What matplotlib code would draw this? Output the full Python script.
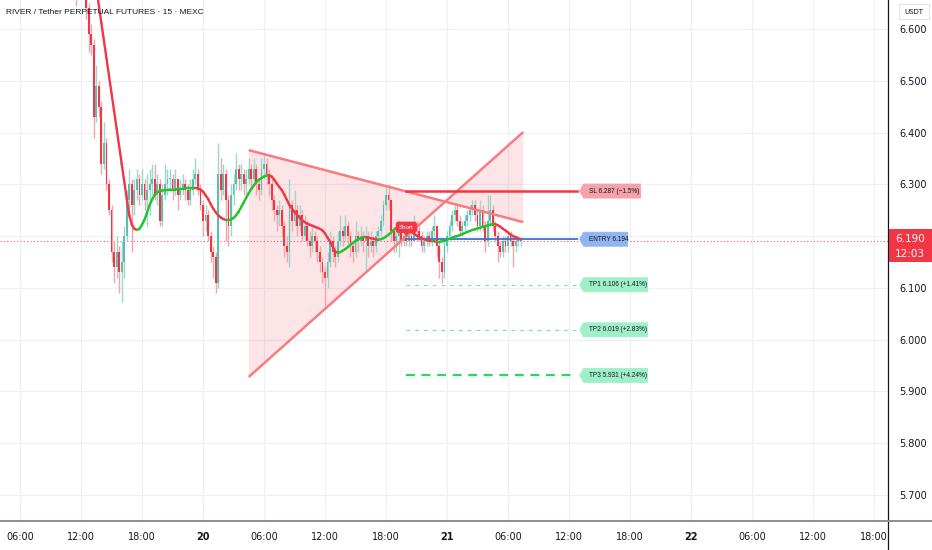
import numpy as np
import matplotlib
matplotlib.use("Agg")
import matplotlib.pyplot as plt
from matplotlib.patches import Polygon, Rectangle
from matplotlib.collections import LineCollection
import matplotlib.transforms as mtransforms
from matplotlib.lines import Line2D

# ---------------- data ----------------
title = "RIVER / Tether PERPETUAL FUTURES · 15 · MEXC"
first_open = 6.70
first_time = -12.5          # hours relative to day 20 00:00
bar_hours = 0.25            # 15-minute candles

closes = [6.69, 6.71, 6.72, 6.68, 6.64, 6.59, 6.57, 6.43, 6.49, 6.45,
          6.34, 6.38, 6.30, 6.25, 6.17, 6.14, 6.17, 6.13, 6.15, 6.20,
          6.27, 6.30, 6.26, 6.29, 6.31, 6.28, 6.30, 6.27, 6.29, 6.30,
          6.31, 6.28, 6.30, 6.23, 6.28, 6.30, 6.31, 6.31, 6.29, 6.31,
          6.28, 6.29, 6.30, 6.29, 6.27, 6.29, 6.31, 6.32, 6.29, 6.26,
          6.23, 6.24, 6.20, 6.17, 6.16, 6.11, 6.32, 6.29, 6.32, 6.27,
          6.22, 6.28, 6.30, 6.33, 6.31, 6.32, 6.30, 6.31, 6.33, 6.31,
          6.33, 6.30, 6.29, 6.33, 6.34, 6.32, 6.30, 6.27, 6.25, 6.24,
          6.25, 6.22, 6.18, 6.17, 6.26, 6.23, 6.25, 6.22, 6.24, 6.20,
          6.22, 6.19, 6.18, 6.20, 6.19, 6.17, 6.15, 6.13, 6.12, 6.15,
          6.19, 6.17, 6.16, 6.19, 6.21, 6.20, 6.22, 6.20, 6.18, 6.17,
          6.20, 6.19, 6.20, 6.19, 6.20, 6.18, 6.19, 6.18, 6.20, 6.21,
          6.23, 6.26, 6.28, 6.27, 6.21, 6.19, 6.20, 6.21, 6.19, 6.20,
          6.19, 6.20, 6.19, 6.22, 6.21, 6.20, 6.18, 6.19, 6.20, 6.19,
          6.21, 6.22, 6.18, 6.15, 6.13, 6.18, 6.20, 6.22, 6.24, 6.25,
          6.23, 6.21, 6.22, 6.23, 6.24, 6.25, 6.26, 6.24, 6.22, 6.25,
          6.22, 6.19, 6.23, 6.25, 6.22, 6.20, 6.18, 6.17, 6.19, 6.18,
          6.20, 6.19, 6.18, 6.19, 6.19, 6.19]
highs = [6.74, 6.74, 6.76, 6.73, 6.69, 6.65, 6.61, 6.58, 6.53, 6.50,
         6.46, 6.42, 6.39, 6.31, 6.26, 6.19, 6.20, 6.18, 6.19, 6.22,
         6.29, 6.33, 6.31, 6.31, 6.33, 6.32, 6.33, 6.31, 6.32, 6.33,
         6.34, 6.34, 6.32, 6.31, 6.30, 6.34, 6.33, 6.33, 6.32, 6.33,
         6.31, 6.31, 6.32, 6.31, 6.30, 6.31, 6.33, 6.35, 6.33, 6.30,
         6.27, 6.26, 6.25, 6.21, 6.18, 6.17, 6.38, 6.35, 6.34, 6.33,
         6.28, 6.30, 6.32, 6.36, 6.34, 6.34, 6.33, 6.33, 6.35, 6.34,
         6.35, 6.34, 6.31, 6.35, 6.36, 6.35, 6.33, 6.31, 6.28, 6.26,
         6.27, 6.26, 6.23, 6.20, 6.31, 6.27, 6.29, 6.26, 6.26, 6.25,
         6.24, 6.23, 6.21, 6.22, 6.21, 6.20, 6.18, 6.16, 6.14, 6.17,
         6.21, 6.20, 6.18, 6.21, 6.24, 6.22, 6.24, 6.23, 6.21, 6.19,
         6.23, 6.21, 6.22, 6.21, 6.22, 6.21, 6.21, 6.20, 6.21, 6.22,
         6.24, 6.27, 6.30, 6.30, 6.27, 6.22, 6.22, 6.23, 6.22, 6.21,
         6.21, 6.21, 6.21, 6.24, 6.23, 6.22, 6.21, 6.20, 6.21, 6.21,
         6.22, 6.24, 6.22, 6.19, 6.16, 6.19, 6.21, 6.23, 6.25, 6.26,
         6.26, 6.24, 6.23, 6.24, 6.25, 6.26, 6.27, 6.27, 6.25, 6.27,
         6.26, 6.23, 6.28, 6.28, 6.26, 6.23, 6.21, 6.19, 6.20, 6.20,
         6.21, 6.21, 6.20, 6.20, 6.20, 6.20]
lows = [6.645, 6.66, 6.69, 6.66, 6.62, 6.556, 6.55, 6.39, 6.42, 6.43,
        6.32, 6.33, 6.29, 6.24, 6.15, 6.11, 6.12, 6.09, 6.073, 6.12,
        6.19, 6.25, 6.17, 6.24, 6.27, 6.26, 6.27, 6.25, 6.22, 6.24,
        6.28, 6.27, 6.26, 6.22, 6.22, 6.27, 6.28, 6.29, 6.27, 6.28,
        6.25, 6.27, 6.28, 6.27, 6.26, 6.26, 6.28, 6.30, 6.28, 6.25,
        6.20, 6.21, 6.19, 6.15, 6.12, 6.09, 6.10, 6.27, 6.28, 6.19,
        6.18, 6.20, 6.26, 6.29, 6.29, 6.29, 6.28, 6.28, 6.30, 6.29,
        6.30, 6.28, 6.27, 6.28, 6.31, 6.30, 6.28, 6.25, 6.23, 6.21,
        6.22, 6.20, 6.16, 6.15, 6.14, 6.21, 6.22, 6.20, 6.21, 6.19,
        6.19, 6.18, 6.16, 6.17, 6.17, 6.15, 6.13, 6.11, 6.065, 6.10,
        6.14, 6.15, 6.14, 6.15, 6.18, 6.18, 6.19, 6.18, 6.16, 6.15,
        6.16, 6.17, 6.18, 6.17, 6.135, 6.16, 6.17, 6.16, 6.17, 6.19,
        6.20, 6.22, 6.25, 6.25, 6.19, 6.17, 6.17, 6.16, 6.18, 6.18,
        6.18, 6.18, 6.18, 6.19, 6.19, 6.19, 6.17, 6.17, 6.18, 6.18,
        6.18, 6.20, 6.16, 6.12, 6.11, 6.12, 6.17, 6.19, 6.21, 6.23,
        6.22, 6.20, 6.20, 6.21, 6.22, 6.23, 6.24, 6.23, 6.21, 6.21,
        6.21, 6.17, 6.18, 6.22, 6.21, 6.19, 6.15, 6.16, 6.16, 6.17,
        6.17, 6.18, 6.14, 6.17, 6.18, 6.18]

# smoothed moving average (starts at candle index 8)
ma_start = 8
ma = [6.680, 6.646, 6.612, 6.578, 6.544, 6.510, 6.476, 6.442, 6.408, 6.374,
      6.340, 6.306, 6.272, 6.240, 6.222, 6.214, 6.212, 6.214, 6.222, 6.232,
      6.246, 6.260, 6.271, 6.280, 6.285, 6.287, 6.288, 6.289, 6.289, 6.290,
      6.290, 6.290, 6.291, 6.291, 6.291, 6.292, 6.292, 6.292, 6.293, 6.293,
      6.292, 6.290, 6.286, 6.279, 6.272, 6.262, 6.253, 6.246, 6.240, 6.236,
      6.233, 6.231, 6.231, 6.232, 6.235, 6.240, 6.247, 6.256, 6.265, 6.274,
      6.283, 6.291, 6.298, 6.304, 6.309, 6.312, 6.315, 6.317, 6.318, 6.315,
      6.309, 6.302, 6.295, 6.289, 6.280, 6.270, 6.260, 6.253, 6.247, 6.241,
      6.236, 6.231, 6.227, 6.224, 6.222, 6.220, 6.218, 6.216, 6.214, 6.211,
      6.205, 6.197, 6.189, 6.180, 6.170, 6.168, 6.169, 6.172, 6.175, 6.179,
      6.183, 6.187, 6.191, 6.194, 6.196, 6.198, 6.198, 6.197, 6.196, 6.195,
      6.194, 6.193, 6.194, 6.196, 6.199, 6.203, 6.207, 6.212, 6.215, 6.217,
      6.218, 6.217, 6.214, 6.211, 6.208, 6.205, 6.201, 6.198, 6.196, 6.194,
      6.192, 6.191, 6.190, 6.190, 6.189, 6.189, 6.190, 6.191, 6.193, 6.195,
      6.197, 6.199, 6.200, 6.202, 6.204, 6.206, 6.208, 6.210, 6.212, 6.213,
      6.215, 6.216, 6.218, 6.219, 6.221, 6.222, 6.223, 6.223, 6.221, 6.218,
      6.214, 6.211, 6.207, 6.203, 6.200, 6.198, 6.196, 6.193]

# triangle drawing (time in hours, price)
tri_t = [4.5, 31.5]
tri_upper = [6.366, 6.227]
tri_lower = [5.928, 6.401]

# trade levels
level_start, level_end = 20.0, 36.75
sl_price, entry_price = 6.287, 6.194
tp_prices = [6.106, 6.019, 5.931]
sl_text = "SL 6.287 (−1.5%)"
entry_text = "ENTRY 6.194"
tp_texts = ["TP1 6.106 (+1.41%)", "TP2 6.019 (+2.83%)", "TP3 5.931 (+4.24%)"]
short_time, short_price = 20.0, 6.217

last_price = 6.190
countdown = "12:03"

xtick_pos = [-18, -12, -6, 0, 6, 12, 18, 24, 30, 36, 42, 48, 54, 60, 66]
xtick_lab = ["06:00", "12:00", "18:00", "20", "06:00", "12:00", "18:00", "21",
             "06:00", "12:00", "18:00", "22", "06:00", "12:00", "18:00"]
ytick_pos = [5.7, 5.8, 5.9, 6.0, 6.1, 6.2, 6.3, 6.4, 6.5, 6.6]
ytick_lab = ["5.700", "5.800", "5.900", "6.000", "6.100", "", "6.300",
             "6.400", "6.500", "6.600"]   # 6.200 is covered by the price label

# ---------------- figure ----------------
W, H = 932, 550
fig = plt.figure(figsize=(W / 100, H / 100), dpi=100)
fig.patch.set_facecolor("white")
ax_right = 888
ax_bottom = 521
ax = fig.add_axes([0, (H - ax_bottom) / H, ax_right / W, ax_bottom / H])
ax.set_xlim(-19.97, 67.38)
ax.set_ylim(5.6498, 6.656)
for s in ax.spines.values():
    s.set_visible(False)

ax.set_xticks(xtick_pos)
ax.set_xticklabels(xtick_lab)
ax.set_yticks(ytick_pos)
ax.set_yticklabels(ytick_lab)
ax.yaxis.tick_right()
ax.tick_params(axis="both", length=0, labelsize=7, colors="#131722")
ax.tick_params(axis="x", pad=8)
ax.tick_params(axis="y", pad=8)
for lab in ax.get_xticklabels():
    if ":" not in lab.get_text():
        lab.set_fontweight("bold")
ax.grid(True, color="#eef0f4", lw=0.9)
ax.set_axisbelow(True)

# triangle
x0, x1 = tri_t
su = (tri_upper[1] - tri_upper[0]) / (x1 - x0)
sl_ = (tri_lower[1] - tri_lower[0]) / (x1 - x0)
xi = x0 + (tri_lower[0] - tri_upper[0]) / (su - sl_)
yi = tri_upper[0] + su * (xi - x0)
tri_col = "#f7525f"
ax.add_patch(Polygon([(x0, tri_upper[0]), (x0, tri_lower[0]), (xi, yi)],
                     closed=True, fc=tri_col, alpha=0.15, ec="none", zorder=1))
ax.add_patch(Polygon([(xi, yi), (x1, tri_lower[1]), (x1, tri_upper[1])],
                     closed=True, fc=tri_col, alpha=0.15, ec="none", zorder=1))
ax.plot(tri_t, tri_upper, color="#f77c80", lw=1.8, zorder=4, solid_capstyle="butt")
ax.plot(tri_t, tri_lower, color="#f77c80", lw=1.8, zorder=4, solid_capstyle="butt")

# candles
n = len(closes)
t = first_time + bar_hours * np.arange(n)
opens = np.array([first_open] + closes[:-1])
c = np.array(closes)
hi = np.array(highs)
lo = np.array(lows)
up = c >= opens
red_body, red_wick = "#f23645", "#f7a3aa"
teal_body, teal_wick = "#5dbdae", "#9ad8cd"
wick_cols = [teal_wick if u else red_wick for u in up]
body_cols = [teal_body if u else red_body for u in up]
ax.vlines(t, lo, hi, colors=wick_cols, lw=1.0, zorder=2)
bottoms = np.minimum(opens, c)
heights = np.maximum(np.abs(c - opens), 0.003)
ax.bar(t, heights, bottom=bottoms, width=bar_hours * 0.72, color=body_cols,
       lw=0, zorder=3)

# moving average, coloured by direction
mt = t[ma_start:ma_start + len(ma)]
mv = np.array(ma)
segs = [[(mt[k - 1], mv[k - 1]), (mt[k], mv[k])] for k in range(1, len(mv))]
seg_cols = ["#1fc32a" if mv[k] >= mv[k - 1] else "#f23645" for k in range(1, len(mv))]
ax.add_collection(LineCollection(segs, colors=seg_cols, lw=1.7, zorder=5,
                                 capstyle="round"))

# last price dotted line
ax.axhline(last_price, color="#f23645", lw=0.8, ls=(0, (1, 2)), alpha=0.8, zorder=1.5)

# trade level lines
ax.plot([level_start, level_end], [sl_price] * 2, color="#f23645", lw=1.8, zorder=4)
ax.plot([level_start, level_end], [entry_price] * 2, color="#3d6fd6", lw=1.3, zorder=4)
ax.plot([level_start, level_end], [tp_prices[0]] * 2, color="#7fe3b6", lw=0.9,
        ls=(0, (3, 4)), zorder=4)
ax.plot([level_start, level_end], [tp_prices[1]] * 2, color="#7fe3b6", lw=0.9,
        ls=(0, (3, 4)), zorder=4)
ax.plot([level_start, level_end], [tp_prices[2]] * 2, color="#2fd36b", lw=1.6,
        ls=(0, (4, 3)), zorder=4)

ident = mtransforms.IdentityTransform()
sans = ["Liberation Sans", "DejaVu Sans"]


def tag(price, text, fc, ec, width):
    px, py = ax.transData.transform((level_end, price))
    px += 3
    hh = 7
    verts = [(px, py), (px + 4, py + hh), (px + 4 + width, py + hh),
             (px + 4 + width, py - hh), (px + 4, py - hh)]
    ax.add_patch(Polygon(verts, closed=True, fc=fc, ec=ec, lw=0.6,
                         transform=ident, clip_on=False, zorder=6))
    ax.text(px + 9, py, text, transform=ident, fontsize=4.7, family=sans,
            color="#131722", va="center", ha="left", zorder=7)


tag(sl_price, sl_text, "#f7a1ab", "#f7a1ab", 57)
tag(entry_price, entry_text, "#91b4f2", "#91b4f2", 44)
for p_, s_ in zip(tp_prices, tp_texts):
    tag(p_, s_, "#9ff0c9", "#9ff0c9", 64)

# Short label
ax.annotate("Short", xy=(short_time, short_price), fontsize=4.5, color="white",
            ha="center", va="center", family=sans, zorder=8,
            bbox=dict(boxstyle="round,pad=0.4,rounding_size=0.3", fc="#f23645",
                      ec="#f23645"))
spx, spy = ax.transData.transform((short_time, short_price))
ax.add_patch(Polygon([(spx - 3, spy - 5), (spx + 3, spy - 5), (spx, spy - 9)],
                     closed=True, fc="#f23645", ec="none", transform=ident,
                     zorder=8, clip_on=False))

# title
fig.text(6 / W, 1 - 13 / H, title, fontsize=6.0, color="#131722",
         family=sans, va="center", ha="left")

# axis separators
fig.add_artist(Line2D([ax_right / W, ax_right / W], [0, 1], color="#131722",
                      lw=0.9, transform=fig.transFigure))
fig.add_artist(Line2D([0, 1], [(H - ax_bottom) / H] * 2, color="#8a8e99",
                      lw=1.4, transform=fig.transFigure))

# USDT box
fig.add_artist(Rectangle((899, H - 19), 30, 15, transform=ident, fc="white",
                         ec="#e0e3eb", lw=0.7))
fig.text(914 / W, 1 - 11.5 / H, "USDT", fontsize=5, color="#131722",
         ha="center", va="center")

# current price label
_, lpy = ax.transData.transform((0, last_price))
fig.add_artist(Rectangle((889, lpy - 21), 43, 33, transform=ident,
                         fc="#f23645", ec="none", zorder=10))
fig.text(910 / W, (lpy + 2) / H, "%.3f" % last_price, fontsize=7.5,
         color="white", ha="center", va="center", zorder=11)
fig.text(910 / W, (lpy - 13) / H, countdown, fontsize=7.5,
         color="white", ha="center", va="center", zorder=11)

fig.savefig("out.png", dpi=100)
